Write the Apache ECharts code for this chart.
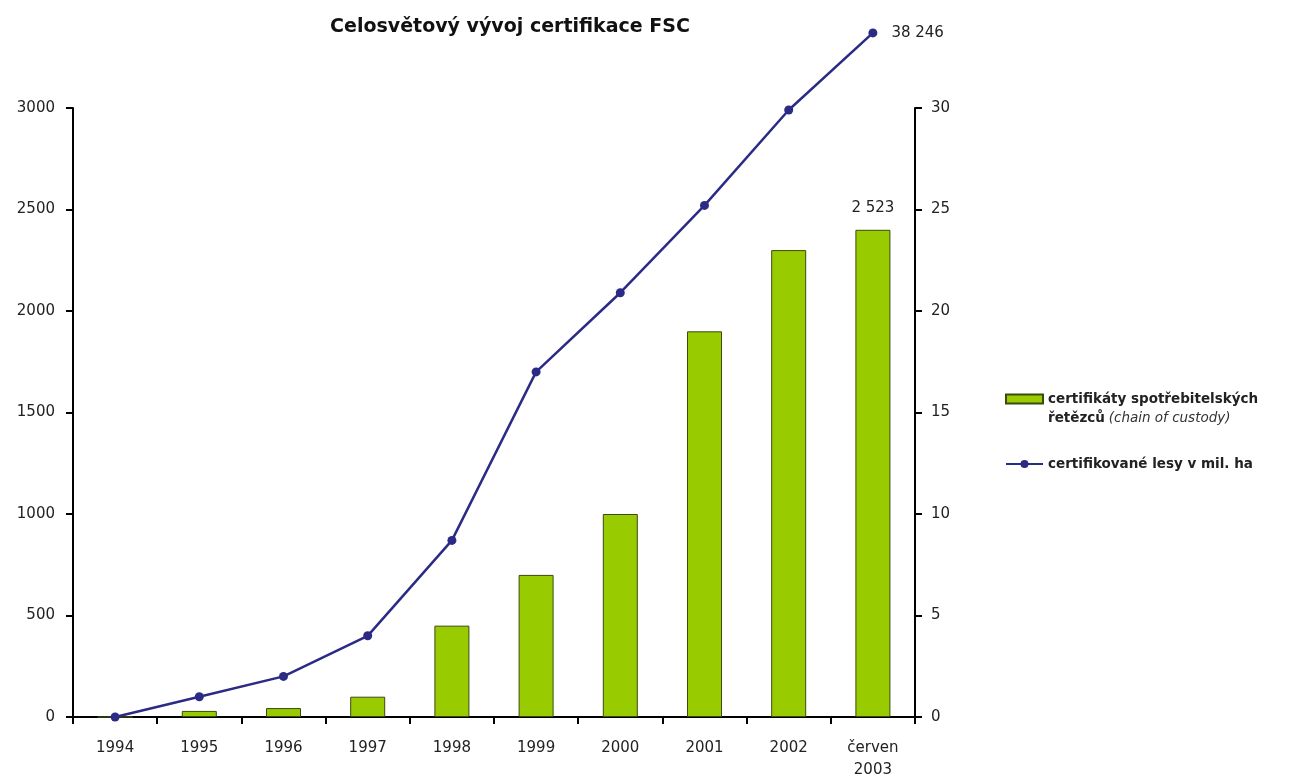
<!DOCTYPE html>
<html>
<head>
<meta charset="utf-8">
<script src="https://cdn.jsdelivr.net/npm/echarts@6/dist/echarts.min.js"></script>
<style>
  html, body { margin: 0; padding: 0; background: #fff; }
  #chart { width: 1292px; height: 776px; }
</style>
</head>
<body>
<div id="chart"></div>
<script>
const years = ["1994", "1995", "1996", "1997", "1998", "1999", "2000", "2001", "2002", "červen\n2003"]
const custody = [0, 30, 44, 100, 450, 700, 1000, 1900, 2300, 2400]
const forests = [0, 1, 2, 4, 8.7, 17, 20.9, 25.2, 29.9, 33.7]
const custodyLabels = ["", "", "", "", "", "", "", "", "", "2 523"]
const forestLabels = ["", "", "", "", "", "", "", "", "", "38 246"]
const leftTicks = [0, 3000, 500]
const rightTicks = [0, 30, 5]

const barName = "certifikáty spotřebitelských řetězců (chain of custody)"
const lineName = "certifikované lesy v mil. ha"

const font = "DejaVu Sans"
const axisText = { fontFamily: font, fontSize: 15, color: "#222" }

const chart = echarts.init(document.getElementById("chart"))

const option = {
  animation: false,
  textStyle: { fontFamily: font },
  title: {
    text: "Celosvětový vývoj certifikace FSC",
    left: 505,
    textAlign: "center",
    top: 13,
    textStyle: { fontFamily: font, fontWeight: "bold", fontSize: 19, color: "#111" },
  },
  grid: {
    left: 73,
    right: 377,
    top: 108,
    height: 609,
    outerBoundsMode: "none",
    containLabel: false,
  },
  legend: [
    {
      data: [{ name: barName, icon: "rect" }],
      orient: "vertical",
      left: 1000,
      top: 368,
      itemWidth: 37,
      itemHeight: 9,
      formatter: () => "{b|}\n{b|certifikáty spotřebitelských}\n{b|řetězců} {i|(chain of custody)}",
      textStyle: {
        rich: {
          b: { fontFamily: font, fontWeight: "bold", fontSize: 13.5, color: "#222", lineHeight: 19 },
          i: { fontFamily: font, fontStyle: "italic", fontSize: 13.5, color: "#333", lineHeight: 19 },
        },
      },
    },
    {
      data: [lineName],
      orient: "vertical",
      left: 1000,
      top: 452,
      itemWidth: 37,
      itemHeight: 10,
      textStyle: { fontFamily: font, fontWeight: "bold", fontSize: 13.5, color: "#222" },
    },
  ],
  xAxis: {
    type: "category",
    data: years,
    axisLine: { lineStyle: { color: "#000", width: 2 } },
    axisTick: { show: true, length: 7, lineStyle: { color: "#000", width: 2 } },
    axisLabel: Object.assign({ margin: 20, lineHeight: 22 }, axisText),
  },
  yAxis: [
    {
      type: "value",
      min: leftTicks[0],
      max: leftTicks[1],
      interval: leftTicks[2],
      splitLine: { show: false },
      axisLine: { show: true, lineStyle: { color: "#000", width: 2 } },
      axisTick: { show: true, length: 7, lineStyle: { color: "#000", width: 2 } },
      axisLabel: Object.assign({ margin: 18, formatter: v => String(v) }, axisText),
    },
    {
      type: "value",
      min: rightTicks[0],
      max: rightTicks[1],
      interval: rightTicks[2],
      splitLine: { show: false },
      axisLine: { show: true, lineStyle: { color: "#000", width: 2 } },
      axisTick: { show: true, length: 7, lineStyle: { color: "#000", width: 2 } },
      axisLabel: Object.assign({ margin: 16, formatter: v => String(v) }, axisText),
    },
  ],
  series: [
    {
      name: barName,
      type: "bar",
      yAxisIndex: 0,
      data: custody,
      barWidth: 35,
      itemStyle: { color: "#99cc00", borderColor: "#3a4a10", borderWidth: 1 },
      label: Object.assign({
        show: true,
        position: "top",
        distance: 14,
        formatter: p => custodyLabels[p.dataIndex],
      }, axisText),
    },
    {
      name: lineName,
      type: "line",
      yAxisIndex: 1,
      data: forests,
      clip: false,
      symbol: "circle",
      symbolSize: 9,
      lineStyle: { color: "#2b2b85", width: 2.5 },
      itemStyle: { color: "#2b2b85" },
      label: Object.assign({
        show: true,
        position: "right",
        distance: 14,
        formatter: p => forestLabels[p.dataIndex],
      }, axisText),
    },
  ],
}

chart.setOption(option)
window.addEventListener("resize", () => chart.resize())
</script>
</body>
</html>
